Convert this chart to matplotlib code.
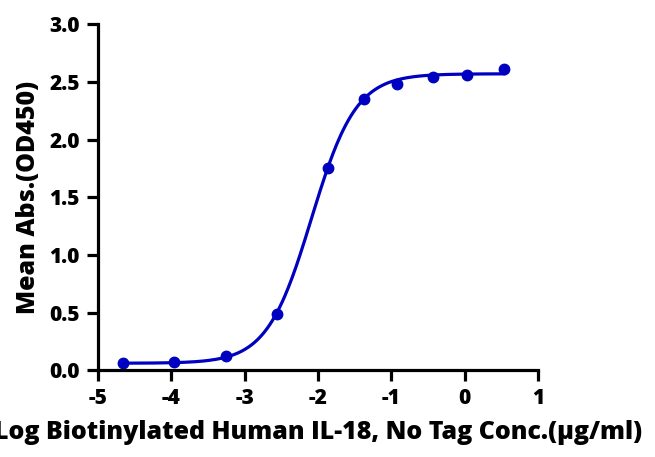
import numpy as np
import matplotlib.pyplot as plt

# data
log_conc = [-4.66, -3.96, -3.26, -2.56, -1.86, -1.38, -0.92, -0.43, 0.03, 0.53]
mean_abs = [0.06, 0.07, 0.12, 0.49, 1.75, 2.35, 2.48, 2.54, 2.56, 2.61]

# 4PL fit parameters (estimated)
bottom = 0.06
top = 2.57
log_ec50 = -2.09
hill = 1.43

x_ticks = [-5, -4, -3, -2, -1, 0, 1]
y_ticks = [0.0, 0.5, 1.0, 1.5, 2.0, 2.5, 3.0]

plt.rcParams['font.family'] = ['Open Sans', 'DejaVu Sans']
plt.rcParams['font.weight'] = 'heavy'

col = '#0000C0'

fig = plt.figure(figsize=(6.55, 4.57), dpi=100)
ax = fig.add_axes([0.1496, 0.19, 0.672, 0.757])

xs = np.linspace(log_conc[0], log_conc[-1], 300)
ys = bottom + (top - bottom) / (1 + 10 ** ((log_ec50 - xs) * hill))
ax.plot(xs, ys, color=col, lw=2.3, clip_on=False)
ax.plot(log_conc, mean_abs, 'o', color=col, ms=7.5, clip_on=False)

ax.set_xlim(-5, 1)
ax.set_ylim(0, 3.0)
ax.set_xticks(x_ticks)
ax.set_xticklabels([str(t) for t in x_ticks])
ax.set_yticks(y_ticks)
ax.set_yticklabels([f"{t:.1f}" for t in y_ticks])

for s in ['top', 'right']:
    ax.spines[s].set_visible(False)
for s in ['left', 'bottom']:
    ax.spines[s].set_linewidth(2.3)
ax.tick_params(width=2.3, length=8, labelsize=15, pad=5)

ax.set_ylabel("Mean Abs.(OD450)", fontsize=18, fontweight='heavy', labelpad=6)
ax.set_xlabel("Log Biotinylated Human IL-18, No Tag Conc.(\u00b5g/ml)", fontsize=18,
              fontweight='heavy', labelpad=8)

fig.savefig("out.png", dpi=100)
